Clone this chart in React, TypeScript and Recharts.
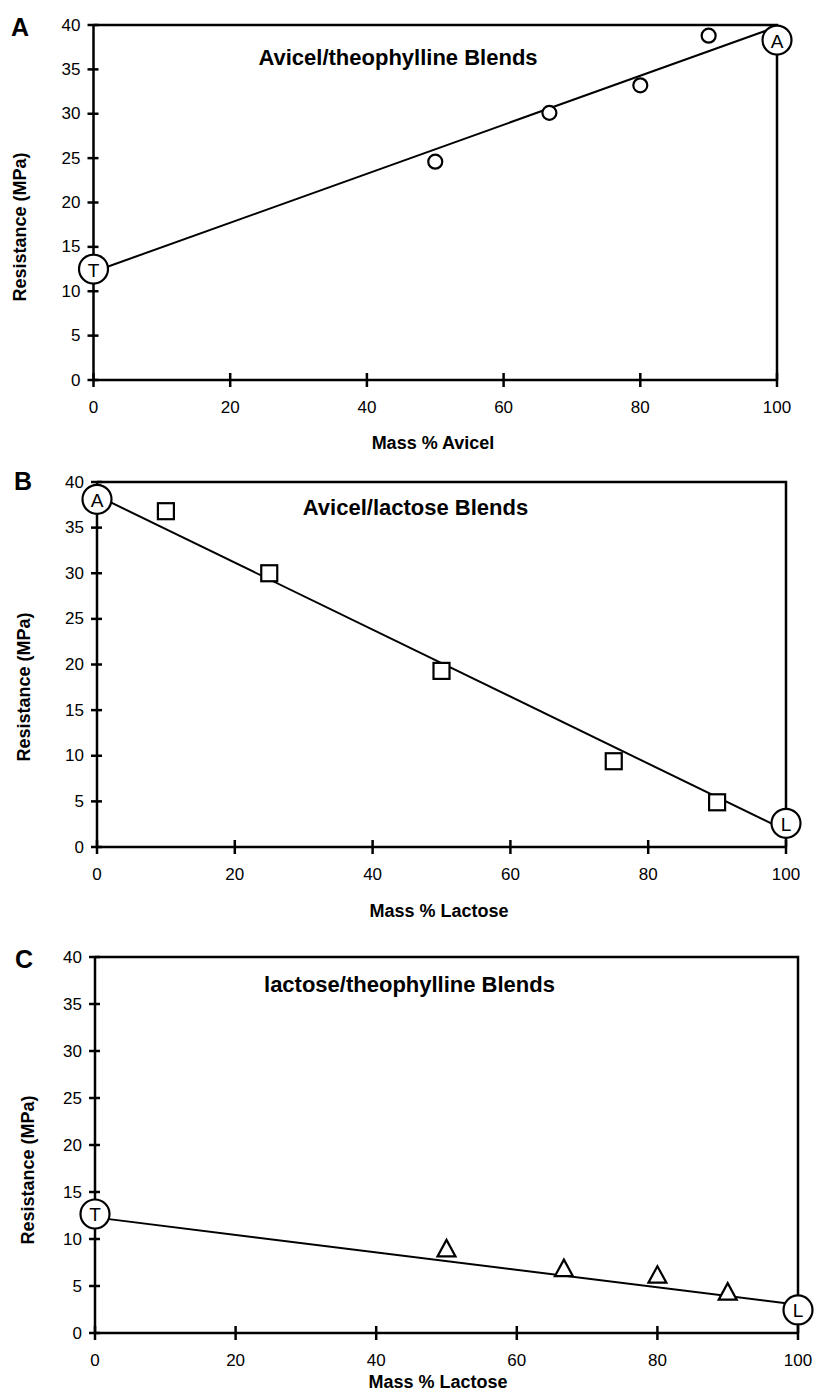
import React from 'react';
import { ComposedChart, XAxis, YAxis, Scatter, Line } from 'recharts';

const FONT = '"Liberation Sans", Arial, Helvetica, sans-serif';

// shared axis ticks
const xTicks = [0, 20, 40, 60, 80, 100];
const yTicks = [0, 5, 10, 15, 20, 25, 30, 35, 40];
const frameX = [0, 100, 100];
const frameY = [40, 40, 0];

// Panel A: Avicel/theophylline
const aPointX = [50, 66.7, 80, 90];
const aPointY = [24.6, 30.1, 33.2, 38.8];
const aEndX = [0, 100];
const aEndY = [12.5, 38.3];
const aEndLabels = ['T', 'A'];
const aFitY = [12.2, 39.8];

// Panel B: Avicel/lactose
const bPointX = [10, 25, 50, 75, 90];
const bPointY = [36.8, 30.0, 19.3, 9.4, 4.9];
const bEndX = [0, 100];
const bEndY = [38.1, 2.6];
const bEndLabels = ['A', 'L'];
const bFitY = [38.5, 1.8];

// Panel C: lactose/theophylline
const cPointX = [50, 66.7, 80, 90];
const cPointY = [9.0, 6.9, 6.2, 4.4];
const cEndX = [0, 100];
const cEndY = [12.66, 2.45];
const cEndLabels = ['T', 'L'];
const cFitY = [12.3, 3.0];

const zip = (xs: number[], ys: number[]) => xs.map((x, i) => ({ x, y: ys[i] }));

const AXIS_W = 2.5;

const YTick = (props: any) => {
  const { x, y, payload } = props;
  return (
    <g>
      <line x1={x - 6} x2={x + 5} y1={y} y2={y} stroke="#000" strokeWidth={2.5} />
      <text x={x - 13} y={y} textAnchor="end" dominantBaseline="central" fontSize={17} fontFamily={FONT} fill="#000">
        {payload.value}
      </text>
    </g>
  );
};

const XTick = (props: any) => {
  const { x, y, payload } = props;
  return (
    <g>
      <line x1={x} x2={x} y1={y - 7} y2={y + 7} stroke="#000" strokeWidth={2.5} />
      <text x={x} y={y + 27} textAnchor="middle" dominantBaseline="central" fontSize={17} fontFamily={FONT} fill="#000">
        {payload.value}
      </text>
    </g>
  );
};

const CircleMark = (props: any) => {
  const { cx, cy } = props;
  return <circle cx={cx} cy={cy} r={7} fill="#fff" stroke="#000" strokeWidth={2.2} />;
};

const SquareMark = (props: any) => {
  const { cx, cy } = props;
  return <rect x={cx - 8} y={cy - 8} width={16} height={16} fill="#fff" stroke="#000" strokeWidth={2.2} />;
};

const TriangleMark = (props: any) => {
  const { cx, cy } = props;
  const pts = `${cx},${cy - 8.5} ${cx + 9},${cy + 8} ${cx - 9},${cy + 8}`;
  return <polygon points={pts} fill="#fff" stroke="#000" strokeWidth={2.2} strokeLinejoin="miter" />;
};

const EndMark = (props: any) => {
  const { cx, cy, payload } = props;
  return (
    <g>
      <circle cx={cx} cy={cy} r={14.5} fill="#fff" stroke="#000" strokeWidth={2.2} />
      <text x={cx} y={cy + 1} textAnchor="middle" dominantBaseline="central" fontSize={19} fontFamily={FONT} fill="#000">
        {payload.label}
      </text>
    </g>
  );
};

type PanelProps = {
  top: number;
  height: number;
  margin: { top: number; right: number; bottom: number; left: number };
  points: { x: number; y: number }[];
  ends: { x: number; y: number; label: string }[];
  fit: { x: number; y: number }[];
  shape: any;
};

const Panel = ({ top, height, margin, points, ends, fit, shape }: PanelProps) => (
  <div style={{ position: 'absolute', left: 0, top, width: 816, height }}>
    <ComposedChart width={816} height={height} margin={margin} style={{ overflow: 'visible' }}>
      <XAxis
        type="number"
        dataKey="x"
        domain={[0, 100]}
        ticks={xTicks}
        interval={0}
        tickLine={false}
        tickSize={0}
        tickMargin={0}
        height={30}
        axisLine={{ stroke: '#000', strokeWidth: AXIS_W }}
        tick={<XTick />}
      />
      <YAxis
        type="number"
        dataKey="y"
        domain={[0, 40]}
        ticks={yTicks}
        interval={0}
        tickLine={false}
        tickSize={0}
        tickMargin={0}
        width={60}
        axisLine={{ stroke: '#000', strokeWidth: AXIS_W }}
        tick={<YTick />}
      />
      <Line
        data={zip(frameX, frameY)}
        dataKey="y"
        type="linear"
        stroke="#000"
        strokeWidth={AXIS_W}
        dot={false}
        activeDot={false}
        isAnimationActive={false}
      />
      <Line
        data={fit}
        dataKey="y"
        type="linear"
        stroke="#000"
        strokeWidth={2}
        dot={false}
        activeDot={false}
        isAnimationActive={false}
      />
      <Scatter data={points} dataKey="y" shape={shape} isAnimationActive={false} />
      <Scatter data={ends} dataKey="y" shape={<EndMark />} isAnimationActive={false} />
    </ComposedChart>
  </div>
);

const textStyle = { fontFamily: FONT, fontWeight: 700, fill: '#000' } as const;

export default function App() {
  const aEnds = aEndX.map((x, i) => ({ x, y: aEndY[i], label: aEndLabels[i] }));
  const bEnds = bEndX.map((x, i) => ({ x, y: bEndY[i], label: bEndLabels[i] }));
  const cEnds = cEndX.map((x, i) => ({ x, y: cEndY[i], label: cEndLabels[i] }));
  return (
    <div style={{ position: 'absolute', left: 0, top: 0, width: 816, height: 1392, background: '#fff', fontFamily: FONT }}>
      <Panel
        top={0}
        height={460}
        margin={{ top: 25, right: 39, bottom: 50, left: 33.5 }}
        points={zip(aPointX, aPointY)}
        ends={aEnds}
        fit={zip(aEndX, aFitY)}
        shape={<CircleMark />}
      />
      <Panel
        top={460}
        height={460}
        margin={{ top: 22, right: 30, bottom: 43, left: 37 }}
        points={zip(bPointX, bPointY)}
        ends={bEnds}
        fit={zip(bEndX, bFitY)}
        shape={<SquareMark />}
      />
      <Panel
        top={920}
        height={472}
        margin={{ top: 37, right: 18, bottom: 29, left: 35 }}
        points={zip(cPointX, cPointY)}
        ends={cEnds}
        fit={zip(cEndX, cFitY)}
        shape={<TriangleMark />}
      />
      <svg width={816} height={1392} style={{ position: 'absolute', left: 0, top: 0, pointerEvents: 'none' }}>
        <text x={20} y={27} fontSize={25} textAnchor="middle" dominantBaseline="central" {...textStyle}>A</text>
        <text x={23} y={481} fontSize={25} textAnchor="middle" dominantBaseline="central" {...textStyle}>B</text>
        <text x={24} y={959} fontSize={25} textAnchor="middle" dominantBaseline="central" {...textStyle}>C</text>

        <text x={398} y={57} fontSize={22} textAnchor="middle" dominantBaseline="central" {...textStyle}>Avicel/theophylline Blends</text>
        <text x={415.5} y={507} fontSize={22} textAnchor="middle" dominantBaseline="central" {...textStyle}>Avicel/lactose Blends</text>
        <text x={409.5} y={984} fontSize={22} textAnchor="middle" dominantBaseline="central" {...textStyle}>lactose/theophylline Blends</text>

        <text x={20} y={227} fontSize={18} textAnchor="middle" dominantBaseline="central" transform="rotate(-90 20 227)" {...textStyle}>Resistance (MPa)</text>
        <text x={24} y={687} fontSize={18} textAnchor="middle" dominantBaseline="central" transform="rotate(-90 24 687)" {...textStyle}>Resistance (MPa)</text>
        <text x={28} y={1170} fontSize={18} textAnchor="middle" dominantBaseline="central" transform="rotate(-90 28 1170)" {...textStyle}>Resistance (MPa)</text>

        <text x={433} y={443} fontSize={18} textAnchor="middle" dominantBaseline="central" {...textStyle}>Mass % Avicel</text>
        <text x={439} y={911} fontSize={18} textAnchor="middle" dominantBaseline="central" {...textStyle}>Mass % Lactose</text>
        <text x={438} y={1382} fontSize={18} textAnchor="middle" dominantBaseline="central" {...textStyle}>Mass % Lactose</text>
      </svg>
    </div>
  );
}
